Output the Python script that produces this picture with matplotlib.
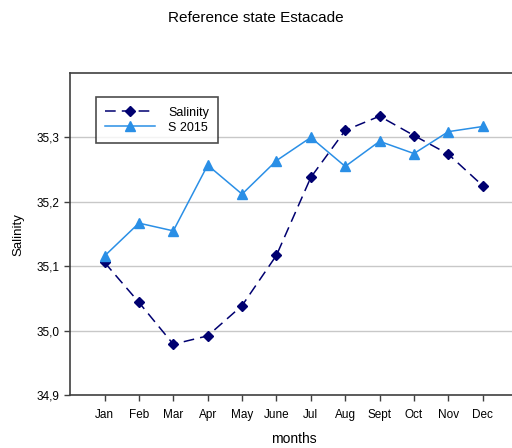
import matplotlib
matplotlib.use("Agg")
import matplotlib.pyplot as plt

plt.rcParams["font.family"] = ["Liberation Sans", "DejaVu Sans"]

months = ["Jan", "Feb", "Mar", "Apr", "May", "June", "Jul", "Aug", "Sept", "Oct", "Nov", "Dec"]
salinity = [35.106, 35.044, 34.979, 34.992, 35.039, 35.117, 35.238, 35.311, 35.333, 35.303, 35.274, 35.225]
s2015 = [35.116, 35.167, 35.155, 35.257, 35.212, 35.264, 35.300, 35.255, 35.294, 35.275, 35.309, 35.317]
yticks = [34.9, 35.0, 35.1, 35.2, 35.3]

fig = plt.figure(figsize=(5.12, 4.48), dpi=100)
ax = fig.add_axes([0.137, 0.118, 0.873, 0.719])
x = range(len(months))

ax.plot(x, salinity, color="#000070", lw=1.1, ls=(0, (7, 4)), marker="D", ms=5.5,
        label="Salinity", zorder=3)
ax.plot(x, s2015, color="#2a8fe6", lw=1.1, marker="^", ms=6.5, label="S 2015", zorder=3)

ax.set_xlim(-1, 12)
ax.set_ylim(34.9, 35.4)
ax.set_xticks(list(x))
ax.set_xticklabels(months, fontsize=8.5)
ax.set_yticks(yticks)
ax.set_yticklabels([f"{v:.1f}".replace(".", ",") for v in yticks], fontsize=8.5)
ax.yaxis.grid(True, color="#c8c8c8", lw=1)
ax.set_axisbelow(True)
ax.tick_params(axis="both", direction="out", length=4, width=1, color="#404040", pad=6)
ax.tick_params(axis="y", pad=4)
for s in ("left", "bottom", "top"):
    ax.spines[s].set_color("#404040")
    ax.spines[s].set_linewidth(1.2)
ax.spines["right"].set_visible(False)

ax.set_xlabel("months", fontsize=10, labelpad=8)
ax.set_ylabel("Salinity", fontsize=9.5, labelpad=8)
fig.suptitle("Reference state Estacade", fontsize=11, y=0.975)

leg = ax.legend(loc="upper left", bbox_to_anchor=(0.058, 0.925), fontsize=9, frameon=True,
                fancybox=False, handlelength=4.0, labelspacing=0.25, borderpad=0.75,
                handletextpad=1.0, borderaxespad=0)
leg.get_frame().set_edgecolor("#202020")
leg.get_frame().set_linewidth(1.2)

fig.savefig("out.png", dpi=100)
